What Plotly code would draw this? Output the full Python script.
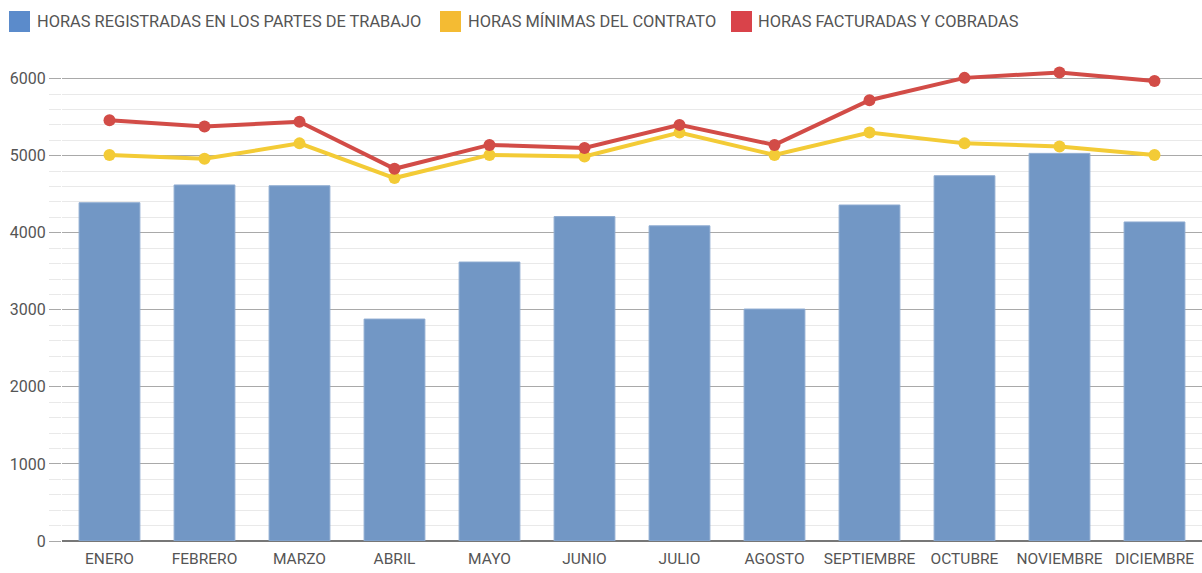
import plotly.graph_objects as go

meses = ["ENERO", "FEBRERO", "MARZO", "ABRIL", "MAYO", "JUNIO", "JULIO",
         "AGOSTO", "SEPTIEMBRE", "OCTUBRE", "NOVIEMBRE", "DICIEMBRE"]
horas_registradas = [4390, 4620, 4610, 2880, 3620, 4210, 4090, 3010, 4360, 4740, 5030, 4140]
horas_minimas = [5010, 4960, 5160, 4710, 5010, 4990, 5300, 5010, 5300, 5160, 5120, 5010]
horas_facturadas = [5460, 5380, 5440, 4830, 5140, 5100, 5400, 5140, 5720, 6010, 6080, 5970]
y_ticks = [0, 1000, 2000, 3000, 4000, 5000, 6000]

legend_names = ["HORAS REGISTRADAS EN LOS PARTES DE TRABAJO",
                "HORAS MÍNIMAS DEL CONTRATO",
                "HORAS FACTURADAS Y COBRADAS"]
legend_colors = ["#5b8bcb", "#f4bb33", "#d9434a"]

FONT = "Roboto, Liberation Sans, sans-serif"
TXT = "#555555"

fig = go.Figure()
fig.add_trace(go.Bar(x=meses, y=horas_registradas, name=legend_names[0],
                     marker=dict(color="#7297c5", line=dict(color="#8eabd1", width=1)),
                     showlegend=False))
fig.add_trace(go.Scatter(x=meses, y=horas_minimas, name=legend_names[1], mode="lines+markers",
                         line=dict(color="#f3cb36", width=4), marker=dict(size=12, color="#f3cb36"),
                         showlegend=False))
fig.add_trace(go.Scatter(x=meses, y=horas_facturadas, name=legend_names[2], mode="lines+markers",
                         line=dict(color="#d24c47", width=4), marker=dict(size=12, color="#d24c47"),
                         showlegend=False))

# manual legend (pixel positions converted to paper coordinates)
L, T, W, H = 62, 64, 1140, 477
def px(x):
    return (x - L) / W
def py(y):
    return (T + H - y) / H

sq_x = [9, 440, 731]
txt_x = [35, 466, 756]
for i in range(3):
    fig.add_shape(type="rect", xref="paper", yref="paper",
                  x0=px(sq_x[i]), x1=px(sq_x[i] + 21), y0=py(32), y1=py(11),
                  fillcolor=legend_colors[i], line=dict(width=0))
    fig.add_annotation(xref="paper", yref="paper", x=px(txt_x[i]), y=py(21.5),
                       text=legend_names[i], showarrow=False, xanchor="left", yanchor="middle",
                       font=dict(family=FONT, size=16.4, color=TXT))

fig.update_layout(
    width=1202, height=573,
    margin=dict(l=L, r=1202 - L - W, t=T, b=573 - T - H),
    paper_bgcolor="white", plot_bgcolor="white",
    bargap=0.36,
    font=dict(family=FONT, size=15, color=TXT),
)
fig.update_xaxes(showgrid=False, tickfont=dict(family=FONT, size=15.5, color=TXT),
                 tickangle=0, automargin=False, range=[-0.5, len(meses) - 0.5],
                 ticklabelstandoff=6,
                 ticks="", showline=False, fixedrange=True)
fig.update_yaxes(range=[0, 6190], tickvals=y_ticks, showgrid=True, gridcolor="#a9a9a9", gridwidth=1,
                 zeroline=True, zerolinecolor="#777777", zerolinewidth=1.5,
                 ticks="outside", ticklen=12, tickcolor="#a9a9a9", tickwidth=1,
                 minor=dict(dtick=200, showgrid=True, gridcolor="#e9e9e9", gridwidth=1,
                            ticks="outside", ticklen=12, tickcolor="#e9e9e9"),
                 automargin=False,
                 tickfont=dict(family=FONT, size=16, color=TXT), showline=False, fixedrange=True)

fig.write_html("out.html")
